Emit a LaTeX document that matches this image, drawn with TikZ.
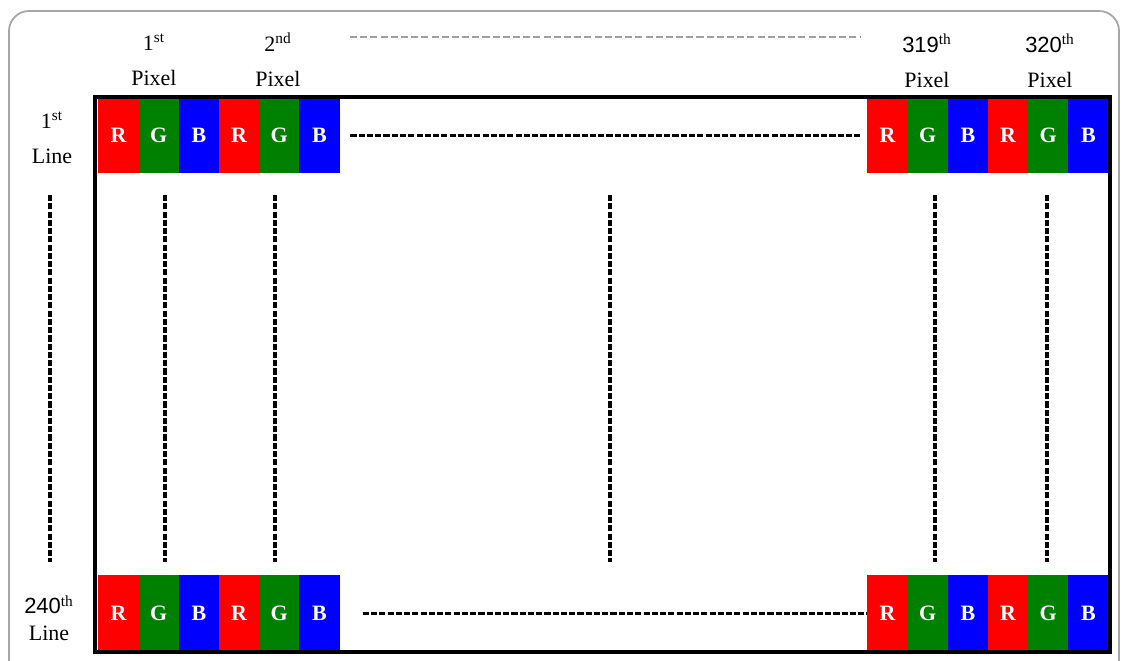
\documentclass[tikz,border=0pt]{standalone}
\usepackage{fontspec}
\setmainfont{Liberation Serif}
\setsansfont{Liberation Sans}
\usetikzlibrary{positioning}

\definecolor{pxR}{RGB}{255,0,0}
\definecolor{pxG}{RGB}{0,128,0}
\definecolor{pxB}{RGB}{0,0,255}

\begin{document}
\begin{tikzpicture}[
  x=0.02cm, y=-0.02cm,
  cellbox/.style={anchor=north west, minimum width=0.804cm,
    minimum height=1.52cm, inner sep=0pt, text=white,
    font=\fontsize{12.5}{15}\selectfont\bfseries},
  lbl/.style={align=center, inner sep=0pt,
    font=\fontsize{12.5}{20}\selectfont},
  dotline/.style={dash pattern=on 3.5pt off 1.2pt, line width=1.8pt},
  greydash/.style={gray!75, dash pattern=on 4pt off 1.8pt, line width=1.4pt},
]
\useasboundingbox (0,0) rectangle (1124,661);

% outer frame, runs off the bottom edge
\draw[gray!70, line width=1pt, rounded corners=0.4cm] (9,11) rectangle (1119,700);

% ── pixel cells: first line and 240th line ──────────────────────────────────
\foreach \row/\ytop in {1/97, 240/575} {
  \foreach \i/\c/\l in {0/pxR/R, 1/pxG/G, 2/pxB/B, 3/pxR/R, 4/pxG/G, 5/pxB/B} {
    \node[cellbox, fill=\c] (L\row-\i) at ({98+40.2*\i},\ytop) {\l};
    \node[cellbox, fill=\c] (R\row-\i) at ({867+40.2*\i},\ytop) {\l};
  }
}

% panel border
\draw[line width=2.2pt] (95,97) rectangle (1110,652);

% ── labels ──────────────────────────────────────────────────────────────────
\node[lbl] (px1)   at (154,60) {1\textsuperscript{st}\\Pixel};
\node[lbl] (px2)   at (278,60) {2\textsuperscript{nd}\\Pixel};
\node[lbl] (px319) at (927,61) {{\sffamily 319}\textsuperscript{th}\\Pixel};
\node[lbl] (px320) at (1050,61) {{\sffamily 320}\textsuperscript{th}\\Pixel};
\node[lbl] (ln1)   at (52,138) {1\textsuperscript{st}\\Line};
\node[lbl] (ln240) at (49,618) {{\sffamily 240}\textsuperscript{th}\\[-5pt]Line};

% ── dotted continuations ────────────────────────────────────────────────────
\draw[greydash] (350,37) -- (860,37);
\draw[dotline, shorten <=6pt, shorten >=4pt] (L1-5.east) -- (R1-0.west);
\draw[dotline, shorten <=13pt] (L240-5.east) -- (R240-0.west);
\foreach \x in {50, 165, 275, 610, 935, 1047}
  \draw[dotline] (\x,195) -- (\x,562);
\end{tikzpicture}
\end{document}
